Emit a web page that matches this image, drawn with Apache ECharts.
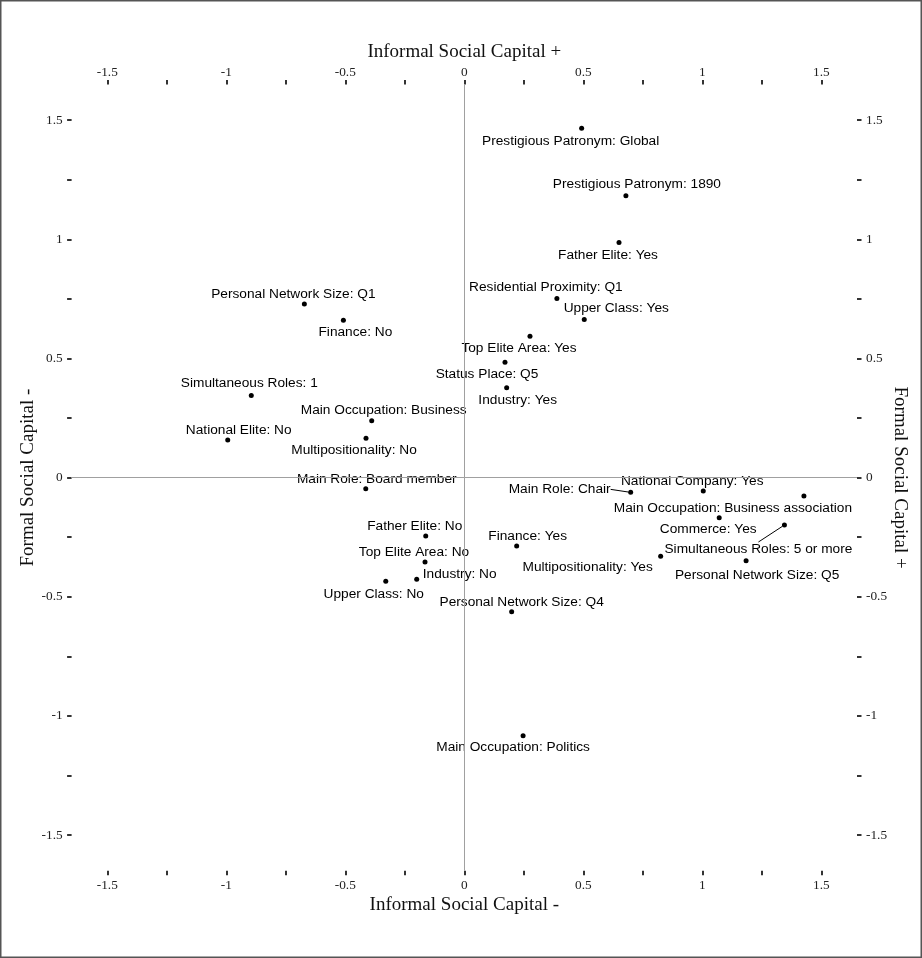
<!DOCTYPE html>
<html><head><meta charset="utf-8">
<script src="https://cdn.jsdelivr.net/npm/echarts@6/dist/echarts.min.js"></script>
<style>html,body{margin:0;padding:0;background:#fff}#c{width:922px;height:958px}</style>
</head><body><div id="c"></div>
<script>
// ---- data ----
const names = [
  "Prestigious Patronym: Global","Prestigious Patronym: 1890","Father Elite: Yes",
  "Residential Proximity: Q1","Upper Class: Yes","Top Elite Area: Yes","Status Place: Q5",
  "Industry: Yes","Personal Network Size: Q1","Finance: No","Simultaneous Roles: 1",
  "Main Occupation: Business","National Elite: No","Multipositionality: No",
  "Main Role: Board member","Main Role: Chair","National Company: Yes",
  "Main Occupation: Business association","Commerce: Yes","Simultaneous Roles: 5 or more",
  "Multipositionality: Yes","Personal Network Size: Q5","Finance: Yes",
  "Personal Network Size: Q4","Father Elite: No","Top Elite Area: No","Industry: No",
  "Upper Class: No","Main Occupation: Politics"
];
const xValues = [0.493,0.679,0.650,0.389,0.504,0.276,0.171,0.178,-0.672,-0.508,-0.895,
  -0.389,-0.994,-0.413,-0.414,0.699,1.004,1.427,1.071,1.345,0.825,1.184,0.220,0.199,
  -0.162,-0.165,-0.200,-0.330,0.247];
const yValues = [1.466,1.183,0.987,0.752,0.663,0.593,0.484,0.377,0.728,0.660,0.344,
  0.239,0.158,0.165,-0.047,-0.062,-0.056,-0.077,-0.168,-0.199,-0.330,-0.349,-0.287,
  -0.563,-0.245,-0.354,-0.427,-0.435,-1.083];
const labelTicks = [-1.5,-1,-0.5,0,0.5,1,1.5];
const tickValues = [-1.5,-1.25,-1,-0.75,-0.5,-0.25,0,0.25,0.5,0.75,1,1.25,1.5];

// ---- label layout (pixel offsets, styling only) ----
const labelDx = [-11,11,-11,-11,32,-11,-18,11,-11,12,-2,12,11,-12,11,-71,-11,-71,-11,-26,-73,11,11,10,-11,-11,43,-12,-10];
const labelDy = [13,-11,13,-11,-11,12,12,12,-10,12,-12,-10,-10,12,-10,-3,-10,12,12,24,11,14,-10,-10,-10,-10,-5,13,12];
const leaderLabels = ["Main Role: Chair","Simultaneous Roles: 5 or more"];

const serif = "'Liberation Serif','Times New Roman',serif";
const sans = "'Liberation Sans',Arial,sans-serif";

const points = names.map((n,i)=>({
  name:n, value:[xValues[i], yValues[i]],
  labelLine: {show: leaderLabels.indexOf(n) >= 0, lineStyle:{color:'#000',width:1}}
}));

function axisCommon(pos, isX){
  return {
    type:'value', position:pos, min:-1.65, max:1.65,
    axisLine:{show:false, onZero:false},
    splitLine:{show:false},
    axisTick:{show:true, customValues:tickValues, length:4.5, lineStyle:{color:'#000',width:1.6}},
    axisLabel:{show:true, customValues:labelTicks, margin: isX ? (pos==='top'?5:8) : 9,
      formatter:v=>String(v), fontFamily:serif, fontSize:13.3, color:'#222'},
    nameLocation:'middle',
    nameMoveOverlap:false,
    nameTextStyle:{fontFamily:serif, fontSize:19, color:'#111'}
  };
}

const xb = Object.assign(axisCommon('bottom',true), {name:'Informal Social Capital -', nameGap:25});
const xt = Object.assign(axisCommon('top',true), {name:'Informal Social Capital +', nameGap:23});
const yl = Object.assign(axisCommon('left',false), {name:'Formal Social Capital -', nameGap:34, nameRotate:90});
const yr = Object.assign(axisCommon('right',false), {name:'Formal Social Capital +', nameGap:33, nameRotate:-90});

const chart = echarts.init(document.getElementById('c'), null, {renderer:'canvas'});
chart.setOption({
  animation:false,
  backgroundColor:'#fff',
  grid:{left:71.6, top:84.4, width:785.4, height:786.4, containLabel:false},
  xAxis:[xb, xt],
  yAxis:[yl, yr],
  graphic:[{type:'rect', shape:{x:0.75,y:0.75,width:920.5,height:956.5},
    style:{fill:'none', stroke:'#555', lineWidth:1.5}, silent:true}],
  series:[{
    type:'scatter', xAxisIndex:0, yAxisIndex:0,
    symbol:'circle', symbolSize:5,
    itemStyle:{color:'#000', opacity:1},
    data:points,
    label:{show:true, position:'inside', formatter:p=>p.name, opacity:1,
      fontFamily:sans, fontSize:13.7, color:'#000', align:'center', verticalAlign:'middle'},
    labelLayout: p => ({dx: labelDx[p.dataIndex], dy: labelDy[p.dataIndex]}),
    emphasis:{disabled:true},
    markLine:{
      silent:true, symbol:['none','none'], label:{show:false},
      lineStyle:{color:'#a0a0a0', width:1, type:'solid', opacity:1},
      data:[{xAxis:0},{yAxis:0}]
    },
    z:3
  }]
});
</script></body></html>
